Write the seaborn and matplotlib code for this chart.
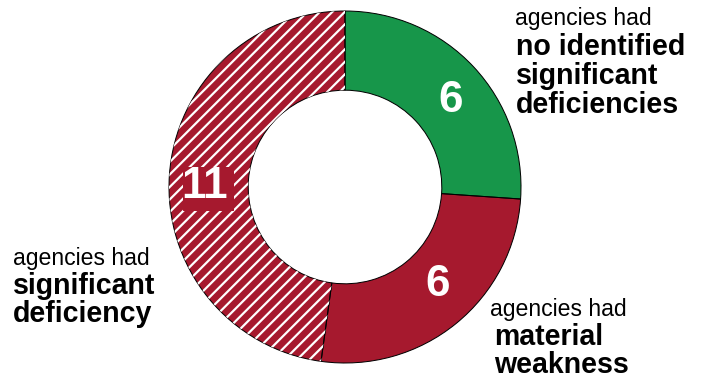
import numpy as np
import seaborn as sns
import matplotlib.pyplot as plt
from matplotlib.patches import Rectangle

# data
categories = ["no identified significant deficiencies", "material weakness", "significant deficiency"]
counts = [6, 6, 11]
colors = ["#17964A", "#A6192E", "#A6192E"]
red = "#A6192E"

sns.set_style("white")
plt.rcParams['font.family'] = ['Liberation Sans', 'DejaVu Sans']
plt.rcParams['text.color'] = 'black'

W, H = 707, 383
DPI = 72  # at 72 dpi, 1 pt == 1 px
fig = plt.figure(figsize=(W / DPI, H / DPI), dpi=DPI)


def fx(px):
    return px / W


def fy(py):
    return 1 - py / H


ax = fig.add_axes([fx(169), fy(363), 352 / W, 352 / H])

wedges, _ = ax.pie(counts, colors=colors, startangle=90, counterclock=False, radius=1,
                   wedgeprops=dict(width=0.45, linewidth=0))
# white diagonal stripes clipped to the "significant deficiency" wedge
step = 12.5 / 176
for c in np.arange(-2.2, 2.2, step):
    ax.plot([-1.1, 1.1], [-1.1 + c, 1.1 + c], color="white", lw=2.2,
            solid_capstyle="butt", clip_path=wedges[2])
# black outlines on top
ax.pie(counts, startangle=90, counterclock=False, radius=1,
       wedgeprops=dict(width=0.45, linewidth=1.0, edgecolor="black", fill=False))
ax.set_xlim(-1, 1)
ax.set_ylim(-1, 1)
ax.axis('off')

# numbers
num_fs = 44
fig.text(fx(451), fy(100), str(counts[0]), color="white", fontsize=num_fs, fontweight="bold",
         ha="center", va="center")
fig.text(fx(437.5), fy(284), str(counts[1]), color="white", fontsize=num_fs, fontweight="bold",
         ha="center", va="center")
fig.patches.append(Rectangle((fx(183), fy(210)), 50 / W, 43 / H, color=red,
                             transform=fig.transFigure, figure=fig, zorder=3))
fig.text(fx(205), fy(187), str(counts[2]), color="white", fontsize=num_fs, fontweight="bold",
         ha="center", va="center", zorder=4)

# annotations
reg_fs, bold_fs = 23, 28.5
fig.text(fx(515), fy(25), "agencies had", fontsize=reg_fs, va="baseline")
for txt, y in zip(["no identified", "significant", "deficiencies"], [55, 84, 113]):
    fig.text(fx(516), fy(y), txt, fontsize=bold_fs, fontweight="bold", va="baseline")

fig.text(fx(13), fy(265), "agencies had", fontsize=reg_fs, va="baseline")
for txt, y in zip(["significant", "deficiency"], [294, 322]):
    fig.text(fx(13), fy(y), txt, fontsize=bold_fs, fontweight="bold", va="baseline")

fig.text(fx(490), fy(316), "agencies had", fontsize=reg_fs, va="baseline")
for txt, y in zip(["material", "weakness"], [345, 373]):
    fig.text(fx(494), fy(y), txt, fontsize=bold_fs, fontweight="bold", va="baseline")

plt.savefig("out.png", dpi=DPI)
